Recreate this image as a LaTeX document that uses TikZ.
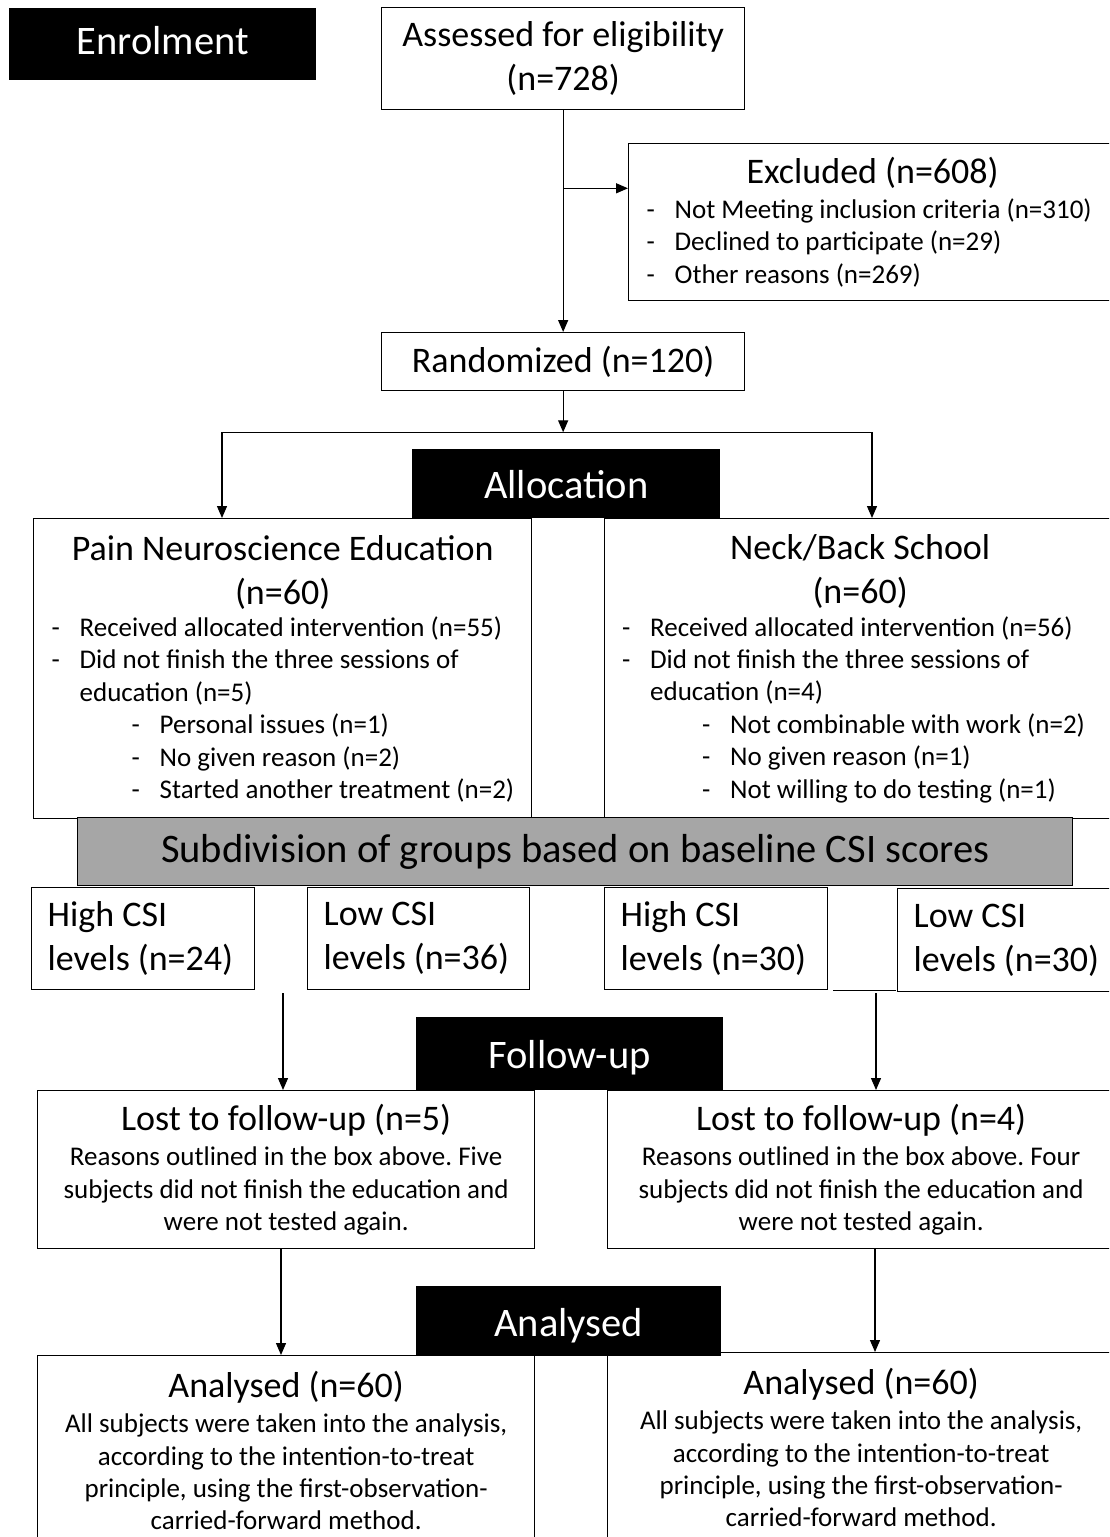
\documentclass[tikz,border=0pt]{standalone}
\usepackage{fontspec}
\setmainfont{Carlito}
\usetikzlibrary{calc, arrows.meta}
\setlength{\parindent}{0pt}

\definecolor{bandgray}{HTML}{A6A6A6}

\newcommand{\fixspace}{\spaceskip=\fontdimen2\font\relax\xspaceskip=\fontdimen2\font\relax}
\newcommand{\headfont}{\fontsize{40.5}{46}\selectfont}
\newcommand{\bandfont}{\fontsize{40.5}{46}\selectfont\fixspace}
\newcommand{\bigfont}{\fontsize{36}{44}\selectfont\fixspace}
\newcommand{\smallfont}{\fontsize{27}{32.4}\selectfont\fixspace}
\newcommand{\dashline}[1]{\hspace*{18pt}\makebox[28pt][l]{-}#1}
\newcommand{\subdashline}[1]{\hspace*{98pt}\makebox[28pt][l]{-}#1}
\newcommand{\contline}[1]{\hspace*{46pt}#1}

\tikzset{
	box/.style = {draw, line width = 1.3pt, inner sep = 0pt, anchor = north west},
	heading/.style = {fill = black, text = white, inner sep = 0pt, anchor = north west, font = \headfont, text height = 33pt, text depth = 3pt},
	arrow/.style = {line width = 1.3pt, -{Triangle[length = 12pt, width = 10pt]}},
	link/.style = {line width = 1.3pt},
}

\begin{document}
\begin{tikzpicture}[x = 1pt, y = -1pt]
	\useasboundingbox (0,0) rectangle (1109,1537);
	\clip (0,0) rectangle (1109,1537);
	
	% enrolment
	\node [heading, minimum width = 307, minimum height = 72, text height = 28pt, text depth = 8pt] (enrol) at (9,8) {Enrolment};
	\node [box, text width = 363, minimum height = 102, align = center] (assess) at (381,7) {{\bigfont Assessed for eligibility\\(n=728)\par}};
	\node [box, text width = 488, minimum height = 157, align = left] (excl) at (628,143) {{\bigfont\centering Excluded (n=608)\par}\vspace{2.6pt}{\smallfont
		\dashline{Not Meeting inclusion criteria (n=310)}\\
		\dashline{Declined to participate (n=29)}\\
		\dashline{Other reasons (n=269)}\par}};
	\node [box, text width = 363, minimum height = 58, align = center] (rand) at (381,332) {{\bigfont Randomized (n=120)\par}};
	
	% allocation
	\node [box, text width = 498, minimum height = 300, align = left] (pne) at (33,518) {{\bigfont\centering Pain Neuroscience Education\\(n=60)\par}{\smallfont
		\dashline{Received allocated intervention (n=55)}\\
		\dashline{Did not finish the three sessions of}\\
		\contline{education (n=5)}\\
		\subdashline{Personal issues (n=1)}\\
		\subdashline{No given reason (n=2)}\\
		\subdashline{Started another treatment (n=2)}\par}};
	\node [box, text width = 512, minimum height = 300, align = left] (nbs) at (603.5,518) {{\bigfont\centering Neck/Back School\\(n=60)\par}{\smallfont
		\dashline{Received allocated intervention (n=56)}\\
		\dashline{Did not finish the three sessions of}\\
		\contline{education (n=4)}\\
		\subdashline{Not combinable with work (n=2)}\\
		\subdashline{No given reason (n=1)}\\
		\subdashline{Not willing to do testing (n=1)}\par}};
	\node [heading, minimum width = 308, minimum height = 69] (alloc) at (412,449) {Allocation};
	\node [box, fill = bandgray, text width = 995, minimum height = 68, align = center] (subdiv) at (77,817) {{\bandfont Subdivision of groups based on baseline CSI scores\par}};
	
	% csi groups
	\node [box, text width = 223, minimum height = 102, align = left] (high pne) at (31,887) {{\bigfont\hspace*{16pt}High CSI\\\hspace*{16pt}levels (n=24)\par}};
	\node [box, text width = 222, minimum height = 102, align = left] (low pne) at (307,887) {{\bigfont\hspace*{16pt}Low CSI\\\hspace*{16pt}levels (n=36)\par}};
	\node [box, text width = 223, minimum height = 102, align = left] (high nbs) at (604,887) {{\bigfont\hspace*{16pt}High CSI\\\hspace*{16pt}levels (n=30)\par}};
	\node [box, text width = 219, minimum height = 103, align = left] (low nbs) at (897,888) {{\bigfont\hspace*{16pt}Low CSI\\\hspace*{16pt}levels (n=30)\par}};
	
	% follow-up
	\node [box, text width = 497, minimum height = 158, align = center] (lost pne) at (37,1090) {{\bigfont Lost to follow-up (n=5)\par}\vspace{2.6pt}{\smallfont Reasons outlined in the box above. Five\\subjects did not finish the education and\\were not tested again.\par}};
	\node [box, text width = 507, minimum height = 158, align = center] (lost nbs) at (607,1090) {{\bigfont Lost to follow-up (n=4)\par}\vspace{2.6pt}{\smallfont Reasons outlined in the box above. Four\\subjects did not finish the education and\\were not tested again.\par}};
	\node [heading, minimum width = 307, minimum height = 73] (follow) at (416,1017) {Follow-up};
	
	% analysed
	\node [box, text width = 497, minimum height = 190, align = center] (ana pne) at (37,1355) {{\bigfont Analysed (n=60)\par}\vspace{2.6pt}{\smallfont All subjects were taken into the analysis,\\according to the intention-to-treat\\principle, using the first-observation-\\carried-forward method.\par}};
	\node [box, text width = 507, minimum height = 190, align = center] (ana nbs) at (607,1352) {{\bigfont Analysed (n=60)\par}\vspace{2.6pt}{\smallfont All subjects were taken into the analysis,\\according to the intention-to-treat\\principle, using the first-observation-\\carried-forward method.\par}};
	\node [heading, minimum width = 305, minimum height = 70] (analysed) at (416,1286) {Analysed};
	
	\coordinate (branch) at ($ (assess.south) + (0,78) $);
	\coordinate (split) at ($ (rand.south) + (0,41) $);
	\coordinate (gap pne) at (283,993);
	\coordinate (gap nbs) at (876,993);
	\coordinate (down pne) at (281,1248);
	\coordinate (down nbs) at (875,1248);
	
	\draw [arrow] (assess.south) -- (rand.north);
	\draw [arrow] (branch) -- (branch -| excl.west);
	\draw [arrow] (rand.south) -- (split);
	\draw [arrow] (split) -| ($ (pne.north west) + (189,0) $);
	\draw [arrow] (split) -| ($ (nbs.north west) + (268.5,0) $);
	
	\draw [link] ($ (high nbs.south east) + (5,0) $) -- ($ (high nbs.south east) + (68,0) $);
	\draw [arrow] (gap pne) -- (gap pne |- lost pne.north);
	\draw [arrow] (gap nbs) -- (gap nbs |- lost nbs.north);
	\draw [arrow] (down pne) -- (down pne |- ana pne.north);
	\draw [arrow] (down nbs) -- (down nbs |- ana nbs.north);
\end{tikzpicture}
\end{document}
